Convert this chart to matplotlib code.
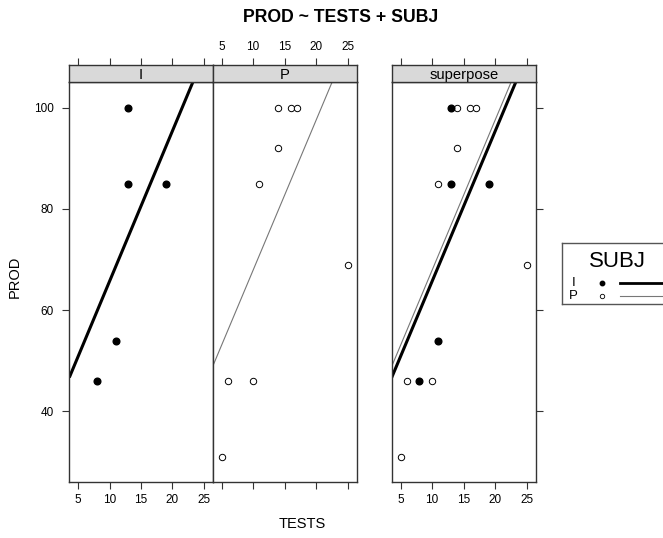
import numpy as np
import matplotlib.pyplot as plt

plt.rcParams['font.family'] = ['Liberation Sans', 'DejaVu Sans']

# data
i_tests = [13, 13, 19, 11, 8]
i_prod = [100, 85, 85, 54, 46]
p_tests = [14, 16, 17, 14, 11, 25, 6, 10, 5]
p_prod = [100, 100, 100, 92, 85, 69, 46, 46, 31]

# fitted lines (intercept, slope)
i_line = [36.0, 2.97]
p_line = [38.2, 2.97]

x_ticks = [5, 10, 15, 20, 25]
y_ticks = [40, 60, 80, 100]
xlim = (3.6, 26.4)
ylim = (26.0, 105.0)

W, H = 663, 538
fig = plt.figure(figsize=(W / 100, H / 100), dpi=100)

frame_col = '#333333'
strip_col = '#d9d9d9'


def box(l, r, t, b):
    return [l / W, (H - b) / H, (r - l) / W, (b - t) / H]


def style(ax):
    for s in ax.spines.values():
        s.set_color(frame_col)
        s.set_linewidth(1.0)
    ax.tick_params(direction='out', length=5, width=0.8, color=frame_col,
                   labelsize=8.5, pad=3.5)


def panel(l, r, name, top_lab, bot_lab, left, right):
    ax = fig.add_axes(box(l, r, 82.3, 482.3))
    st = fig.add_axes(box(l, r, 65.0, 82.3))
    style(ax)
    style(st)
    ax.set_xlim(*xlim)
    ax.set_ylim(*ylim)
    st.set_xlim(*xlim)
    st.set_facecolor(strip_col)
    st.set_yticks([])
    st.text(0.5, 0.45, name, transform=st.transAxes, ha='center', va='center',
            fontsize=10.6)
    st.xaxis.tick_top()
    st.set_xticks(x_ticks)
    st.tick_params(axis='x', labeltop=top_lab, bottom=False, labelbottom=False)
    ax.set_xticks(x_ticks)
    ax.tick_params(axis='x', labelbottom=bot_lab)
    ax.set_yticks(y_ticks)
    ax.tick_params(axis='y', left=left, labelleft=left, right=right,
                   labelright=False, pad=6)
    return ax


def draw_line(ax, coef, **kw):
    xs = np.array(xlim)
    ax.plot(xs, coef[0] + coef[1] * xs, **kw)


i_kw = dict(color='black', lw=2.2, solid_capstyle='butt')
p_kw = dict(color='#777777', lw=0.8)
i_mk = dict(ls='none', marker='o', ms=4.8, mfc='black', mec='black')
p_mk = dict(ls='none', marker='o', ms=4.6, mfc='white', mec='black', mew=0.7)

ax1 = panel(69.3, 212.7, 'I', False, True, True, False)
ax1.plot(i_tests, i_prod, **i_mk)
draw_line(ax1, i_line, **i_kw)

ax2 = panel(212.7, 356.7, 'P', True, False, False, False)
ax2.plot(p_tests, p_prod, **p_mk)
draw_line(ax2, p_line, **p_kw)

ax3 = panel(391.7, 535.7, 'superpose', False, True, False, True)
ax3.plot(p_tests, p_prod, **p_mk)
ax3.plot(i_tests, i_prod, **i_mk)
draw_line(ax3, i_line, **i_kw)
draw_line(ax3, p_line, **p_kw)

fig.text(341 / W, 1 - 17 / H, 'PROD ~ TESTS + SUBJ', ha='center', va='center',
         fontsize=12.7, fontweight='bold')
fig.text(302 / W, 1 - 524 / H, 'TESTS', ha='center', va='center', fontsize=10.5)
fig.text(15 / W, 1 - 277 / H, 'PROD', ha='center', va='center', fontsize=10.5,
         rotation=90)

# legend drawn as a small axes at the right edge
lg = fig.add_axes(box(562, 675, 243, 304))
lg.set_xlim(0, 1)
lg.set_ylim(0, 1)
lg.set_xticks([])
lg.set_yticks([])
for s in lg.spines.values():
    s.set_color('#555555')
    s.set_linewidth(1.0)
lg.text(0.49, 0.70, 'SUBJ', ha='center', va='center', fontsize=16)
lg.text(0.10, 0.34, 'I', ha='center', va='center', fontsize=9.5)
lg.text(0.10, 0.13, 'P', ha='center', va='center', fontsize=9.5)
lg.plot([0.35], [0.34], ls='none', marker='o', ms=3.2, mfc='black', mec='black')
lg.plot([0.35], [0.13], ls='none', marker='o', ms=3.2, mfc='white', mec='black',
        mew=0.6)
lg.plot([0.51, 1.0], [0.34, 0.34], color='black', lw=2.0)
lg.plot([0.51, 1.0], [0.13, 0.13], color='#777777', lw=0.8)

fig.savefig('out.png', dpi=100)
